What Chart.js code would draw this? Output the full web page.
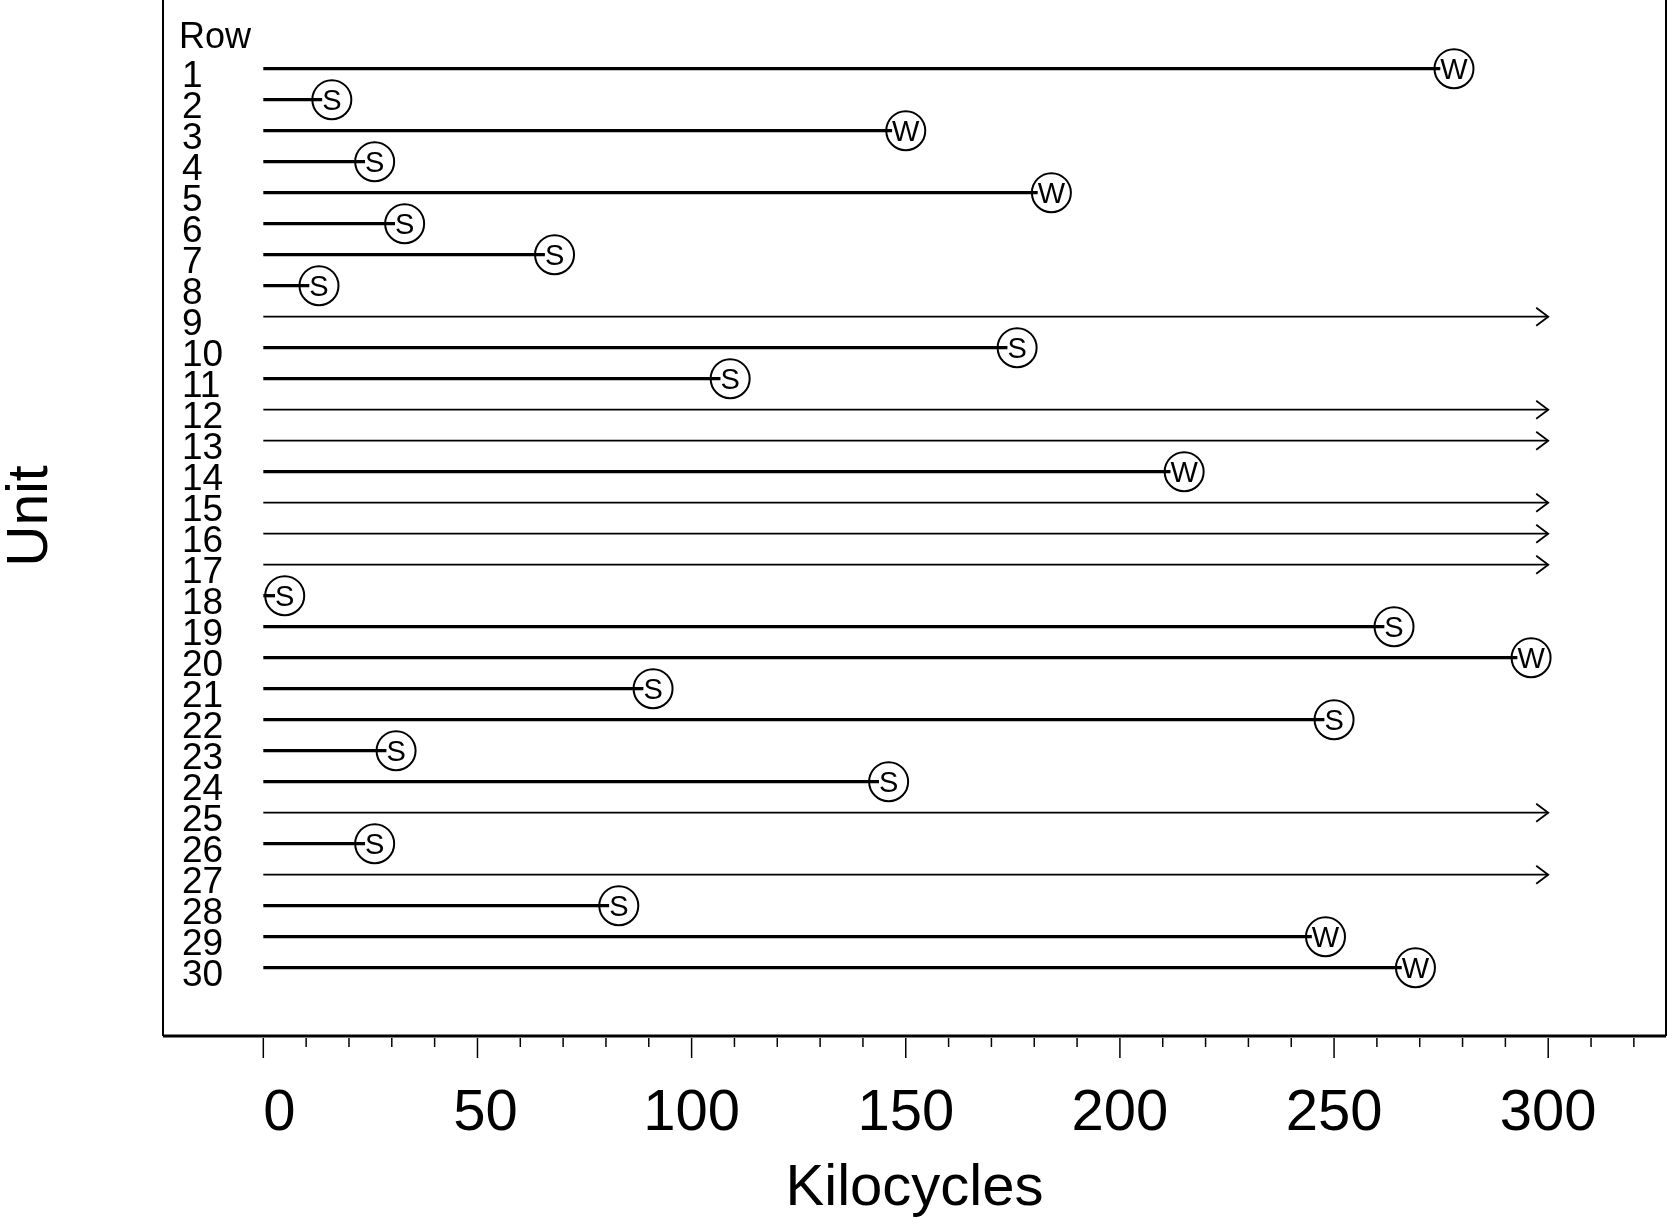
<!DOCTYPE html>
<html>
<head>
<meta charset="utf-8">
<script src="https://cdn.jsdelivr.net/npm/chart.js@4.4.1/dist/chart.umd.min.js"></script>
<style>
  body{margin:0;background:#fff;}
  canvas{display:block;}
</style>
</head>
<body>
<canvas id="eventChart" width="1668" height="1217"></canvas>
<script>
// unit rows, kilocycles reached, and how each run ended (W / S failure, '>' still running)
const rows=[1,2,3,4,5,6,7,8,9,10,11,12,13,14,15,16,17,18,19,20,21,22,23,24,25,26,27,28,29,30];
const endKc=[278,16,150,26,184,33,68,13,300,176,109,300,300,215,300,300,300,5,264,296,91,250,31,146,300,26,300,83,248,269];
const mode=['W','S','W','S','W','S','S','S','>','S','S','>','>','W','>','>','>','S','S','W','S','S','S','S','>','S','>','S','W','W'];
const xLabels=[0,50,100,150,200,250,300];
const xMinorStep=10;
const xTickEnd=320;

const FONT='"Liberation Sans", Arial, sans-serif';

const datasets=[];
rows.forEach((r,i)=>{
  const running=mode[i]==='>';
  datasets.push({
    type:'line',
    data:[{x:0,y:r},{x:endKc[i],y:r}],
    borderColor:'#000',
    borderWidth:running?1.8:3.3,
    pointRadius:0,
    fill:false
  });
});
datasets.push({
  type:'scatter',
  data:rows.map((r,i)=>({x:endKc[i],y:r,m:mode[i]})).filter(p=>p.m!=='>'),
  pointRadius:19.5,
  pointHoverRadius:19.5,
  pointBorderWidth:2,
  pointBorderColor:'#000',
  pointBackgroundColor:'rgba(0,0,0,0)'
});

const eventMarks={
  id:'eventMarks',
  afterDatasetsDraw(chart){
    const {ctx,scales:{x,y}}=chart;
    ctx.save();
    ctx.strokeStyle='#000';
    ctx.fillStyle='#000';
    // arrow heads for units still running
    rows.forEach((r,i)=>{
      if(mode[i]!=='>') return;
      const px=x.getPixelForValue(endKc[i]);
      const py=y.getPixelForValue(r);
      ctx.beginPath();
      ctx.moveTo(px-12,py-9);
      ctx.lineTo(px,py);
      ctx.lineTo(px-12,py+9);
      ctx.lineWidth=1.8;
      ctx.stroke();
    });
    // failure mode letters inside the circles
    ctx.font='29px '+FONT;
    ctx.textAlign='center';
    ctx.textBaseline='alphabetic';
    rows.forEach((r,i)=>{
      if(mode[i]==='>') return;
      const px=x.getPixelForValue(endKc[i]);
      const py=y.getPixelForValue(r);
      const w=ctx.measureText(mode[i]).width;
      ctx.fillStyle='#fff';
      ctx.fillRect(px-w/2,py-11,w,22);
      ctx.fillStyle='#000';
      ctx.fillText(mode[i],px,py+10.5);
    });
    ctx.restore();
  },
  afterDraw(chart){
    const {ctx,chartArea:a,scales:{x,y}}=chart;
    ctx.save();
    ctx.strokeStyle='#000';
    ctx.fillStyle='#000';
    // frame
    ctx.lineWidth=2;
    ctx.beginPath();
    ctx.moveTo(a.left,0);ctx.lineTo(a.left,a.bottom);
    ctx.moveTo(a.right,0);ctx.lineTo(a.right,a.bottom);
    ctx.stroke();
    ctx.lineWidth=3;
    ctx.beginPath();
    ctx.moveTo(a.left,a.bottom);ctx.lineTo(a.right,a.bottom);
    ctx.stroke();
    // x ticks
    ctx.lineWidth=1.5;
    for(let v=0;v<=xTickEnd;v+=xMinorStep){
      const px=x.getPixelForValue(v);
      const major=xLabels.includes(v);
      ctx.beginPath();
      ctx.moveTo(px,a.bottom+2);
      ctx.lineTo(px,a.bottom+(major?22:11));
      ctx.stroke();
    }
    ctx.font='58px '+FONT;
    ctx.textAlign='center';
    ctx.textBaseline='alphabetic';
    xLabels.forEach(v=>{
      const s=String(v);
      ctx.fillText(s,x.getPixelForValue(v)+(3-s.length)*8,1130);
    });
    ctx.fillText('Kilocycles',(a.left+a.right)/2,1205);
    // y title
    ctx.save();
    ctx.translate(47,516);
    ctx.rotate(-Math.PI/2);
    ctx.font='57px '+FONT;
    ctx.fillText('Unit',0,0);
    ctx.restore();
    // row labels
    ctx.textAlign='left';
    ctx.font='36px '+FONT;
    ctx.fillText('Row',179,48);
    ctx.font='37px '+FONT;
    rows.forEach(r=>{
      ctx.fillText(String(r),182,y.getPixelForValue(r)+18);
    });
    ctx.restore();
  }
};

new Chart(document.getElementById('eventChart'),{
  type:'line',
  data:{datasets},
  options:{
    responsive:false,
    maintainAspectRatio:false,
    devicePixelRatio:1,
    animation:false,
    layout:{autoPadding:false,padding:{left:163,right:2,top:0,bottom:181}},
    plugins:{legend:{display:false},tooltip:{enabled:false}},
    scales:{
      x:{type:'linear',min:-23.42,max:327.5,display:false},
      y:{type:'linear',min:-1.216,max:32.203,reverse:true,display:false}
    }
  },
  plugins:[eventMarks]
});
</script>
</body>
</html>
